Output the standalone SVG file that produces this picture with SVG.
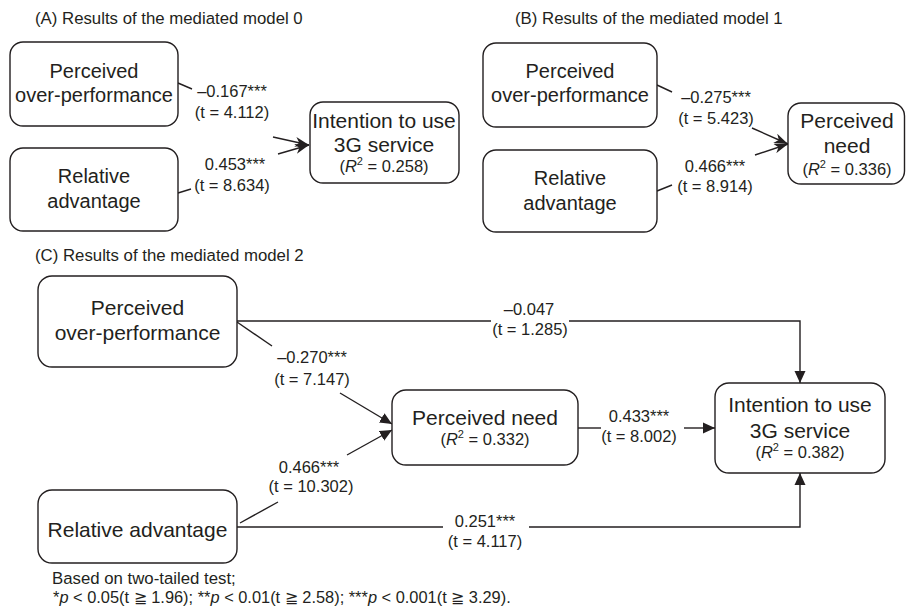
<svg xmlns="http://www.w3.org/2000/svg" width="906" height="615" viewBox="0 0 906 615">
<style>
text{font-family:"Liberation Sans",Arial,sans-serif;fill:#231f20}
.t{font-size:16.8px}
.b{font-size:20px;text-anchor:middle}
.b21{font-size:21px;text-anchor:middle}
.l{font-size:16.5px;text-anchor:middle}
.r{font-size:16.5px;text-anchor:middle}
.box{fill:#fff;stroke:#231f20;stroke-width:1.4}
.c line,.c path{fill:none;stroke:#231f20;stroke-width:1.4}
.i{font-style:italic}
</style>
<defs>
<marker id="st" viewBox="0 0 14 10" refX="14" refY="5" markerWidth="14" markerHeight="10" markerUnits="userSpaceOnUse" orient="auto"><path d="M0,0 L14,5 L0,10 L4,5 z" fill="#231f20"/></marker>
<marker id="tri" viewBox="0 0 12 12" refX="12" refY="6" markerWidth="12" markerHeight="12" markerUnits="userSpaceOnUse" orient="auto"><path d="M0,0.5 L12,6 L0,11.5 z" fill="#231f20"/></marker>
</defs>
<rect width="906" height="615" fill="#fff"/>

<g id="titles">
<text class="t" x="35" y="24">(A) Results of the mediated model 0</text>
<text class="t" x="515" y="24">(B) Results of the mediated model 1</text>
<text class="t" x="35" y="261">(C) Results of the mediated model 2</text>
</g>

<g class="c" id="connectors">
<!-- Panel A -->
<line x1="178" y1="83" x2="192" y2="89"/>
<line x1="273" y1="137" x2="309" y2="145" marker-end="url(#st)"/>
<line x1="178" y1="193" x2="191" y2="189"/>
<line x1="278" y1="154" x2="309" y2="145" marker-end="url(#st)"/>
<!-- Panel B -->
<line x1="657" y1="85" x2="672" y2="92"/>
<line x1="752" y1="128" x2="788" y2="144" marker-end="url(#st)"/>
<line x1="657" y1="191" x2="672" y2="185"/>
<line x1="755" y1="155" x2="788" y2="144" marker-end="url(#st)"/>
<!-- Panel C -->
<line x1="237" y1="321" x2="491" y2="321"/>
<path d="M569,321 H800 V383" marker-end="url(#tri)"/>
<line x1="237" y1="322" x2="272" y2="346"/>
<line x1="340" y1="393" x2="392" y2="424" marker-end="url(#tri)"/>
<line x1="240" y1="523" x2="278" y2="502"/>
<line x1="347" y1="455" x2="392" y2="430" marker-end="url(#tri)"/>
<line x1="578" y1="428" x2="601" y2="428"/>
<line x1="684" y1="428" x2="715" y2="428" marker-end="url(#tri)"/>
<line x1="237" y1="527" x2="443" y2="527"/>
<path d="M529,527 H800 V473" marker-end="url(#tri)"/>
</g>

<g id="edge-labels">
<text class="l" x="232" y="97">–0.167***</text>
<text class="l" x="232" y="118">(t = 4.112)</text>
<text class="l" x="235" y="170">0.453***</text>
<text class="l" x="232" y="191">(t = 8.634)</text>
<text class="l" x="716" y="103">–0.275***</text>
<text class="l" x="716" y="124">(t = 5.423)</text>
<text class="l" x="715" y="172">0.466***</text>
<text class="l" x="715" y="192">(t = 8.914)</text>
<text class="l" x="529" y="315">–0.047</text>
<text class="l" x="530" y="335">(t = 1.285)</text>
<text class="l" x="312" y="363">–0.270***</text>
<text class="l" x="312" y="385">(t = 7.147)</text>
<text class="l" x="309" y="473">0.466***</text>
<text class="l" x="311" y="492">(t = 10.302)</text>
<text class="l" x="639" y="422">0.433***</text>
<text class="l" x="639" y="442">(t = 8.002)</text>
<text class="l" x="485" y="527">0.251***</text>
<text class="l" x="485" y="547">(t = 4.117)</text>
</g>

<g id="A-perceived-over-performance">
<rect class="box" x="10" y="42" width="168" height="84" rx="13"/>
<text class="b" x="94" y="78">Perceived</text>
<text class="b" x="94" y="102">over-performance</text>
</g>
<g id="A-relative-advantage">
<rect class="box" x="10" y="148" width="168" height="83" rx="13"/>
<text class="b" x="94" y="183">Relative</text>
<text class="b" x="94" y="208">advantage</text>
</g>
<g id="A-intention">
<rect class="box" x="310" y="102" width="149" height="81" rx="13"/>
<text class="b21" x="384" y="128">Intention to use</text>
<text class="b21" x="384" y="152">3G service</text>
<text class="r" x="384" y="172">(<tspan class="i">R</tspan><tspan font-size="11" dy="-7">2</tspan><tspan dy="7"> = 0.258)</tspan></text>
</g>

<g id="B-perceived-over-performance">
<rect class="box" x="483" y="43" width="174" height="84" rx="13"/>
<text class="b" x="570" y="78">Perceived</text>
<text class="b" x="570" y="102">over-performance</text>
</g>
<g id="B-relative-advantage">
<rect class="box" x="483" y="150" width="174" height="82" rx="13"/>
<text class="b" x="570" y="185">Relative</text>
<text class="b" x="570" y="210">advantage</text>
</g>
<g id="B-perceived-need">
<rect class="box" x="788" y="103" width="116.5" height="81" rx="13"/>
<text class="b21" x="847" y="128">Perceived</text>
<text class="b21" x="847" y="153">need</text>
<text class="r" x="847" y="175">(<tspan class="i">R</tspan><tspan font-size="11" dy="-7">2</tspan><tspan dy="7"> = 0.336)</tspan></text>
</g>

<g id="C-perceived-over-performance">
<rect class="box" x="38" y="276" width="199" height="91" rx="14"/>
<text class="b21" x="137.5" y="315">Perceived</text>
<text class="b21" x="137.5" y="340">over-performance</text>
</g>
<g id="C-perceived-need">
<rect class="box" x="392" y="390" width="186" height="75" rx="14"/>
<text class="b21" x="485" y="425">Perceived need</text>
<text class="r" x="485" y="445">(<tspan class="i">R</tspan><tspan font-size="11" dy="-7">2</tspan><tspan dy="7"> = 0.332)</tspan></text>
</g>
<g id="C-intention">
<rect class="box" x="715" y="383" width="170" height="90" rx="14"/>
<text class="b21" x="800" y="412">Intention to use</text>
<text class="b21" x="800" y="438">3G service</text>
<text class="r" x="800" y="458">(<tspan class="i">R</tspan><tspan font-size="11" dy="-7">2</tspan><tspan dy="7"> = 0.382)</tspan></text>
</g>
<g id="C-relative-advantage">
<rect class="box" x="38" y="490" width="199" height="73" rx="14"/>
<text class="b21" x="137.5" y="537">Relative advantage</text>
</g>

<g id="footer">
<text class="t" x="52" y="584">Based on two-tailed test;</text>
<text x="53" y="603" font-size="16.4">*<tspan class="i">p</tspan> &lt; 0.05(t ≧ 1.96); **<tspan class="i">p</tspan> &lt; 0.01(t ≧ 2.58); ***<tspan class="i">p</tspan> &lt; 0.001(t ≧ 3.29).</text>
</g>
</svg>
